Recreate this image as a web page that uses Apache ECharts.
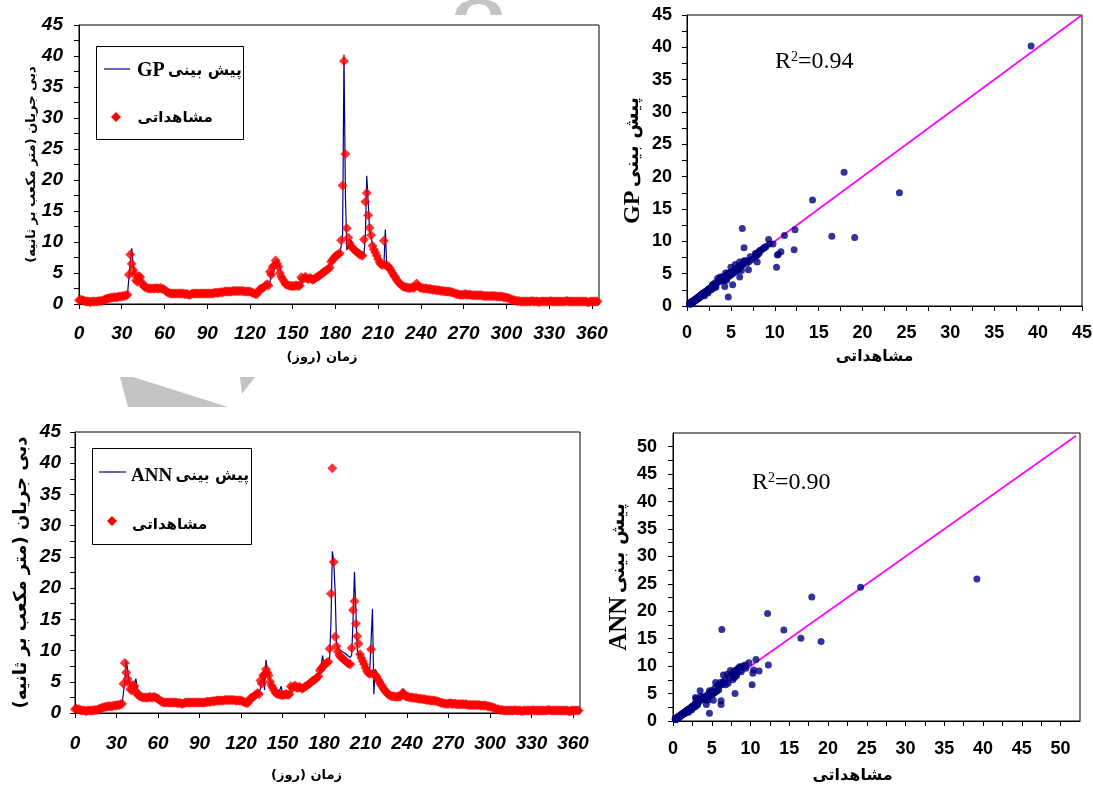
<!DOCTYPE html>
<html>
<head>
<meta charset="utf-8">
<script src="https://cdn.jsdelivr.net/npm/echarts@6/dist/echarts.min.js"></script>
<style>
html,body{margin:0;padding:0;background:#fff}
#main{width:1093px;height:789px}
</style>
</head>
<body>
<div id="main"></div>
<script>
// daily discharge, day 0..364
var observed = [
  0.6,0.7,0.6,0.6,0.5,0.4,0.4,0.4,0.3,0.4,0.4,0.4,0.4,0.4,0.5,0.5,0.5,
  0.6,0.7,0.8,0.9,0.9,1.0,1.0,1.1,1.1,1.1,1.1,1.2,1.2,1.2,1.3,1.3,1.4,1.5,
  4.7,8.0,6.5,5.5,4.8,3.8,3.6,4.5,4.3,3.5,3.0,2.8,
  2.7,2.6,2.5,2.5,2.5,2.5,2.5,2.6,2.5,2.5,2.6,2.5,2.4,2.3,
  2.1,1.9,1.8,1.7,
  1.7,1.7,1.7,1.7,1.7,1.7, 1.7,1.7,1.7,1.6,1.6,1.6, 1.5,1.5,1.6,1.7,1.7,1.7,
  1.7,1.7,1.7,1.7,1.7,1.7, 1.7,1.7,1.7,1.7,1.7,1.7, 1.8,1.8,1.8,1.8,1.9,1.9,
  1.9,2.0,2.0,2.0,2.0,2.0, 2.0,2.1,2.1,2.1,2.1,2.1, 2.1,2.1,2.1,2.0,2.0,2.0, 2.0,2.0,1.9,1.8,1.7,1.6,
  1.6,2.0,2.4,2.5,2.6,2.8,3.0,3.2,3.0,5.2,4.7, 6.0,6.2,7.0,6.5,6.0,5.0,4.4,4.0,3.6,3.2,3.1,
  3.0,3.0,2.9,2.9,2.9,3.0,3.0,2.9,3.0,
  4.3,4.0,4.2,4.4,4.1,4.0,4.2,4.1,3.9,4.0,4.2, 4.3,4.5,4.6,4.8,5.0,5.2,5.3,5.5,5.7,5.9,6.8,
  7.1,7.4,7.7,7.9,8.0,8.2,
  10.3,19.1,39.2,24.2,12.2,10.7,
  9.8,9.3,9.0,8.8,8.6,8.4,8.2,8.0,7.9,7.8,
  10.4,16.5,17.9,14.3,12.3,11.1,
  9.4,8.8,8.3,7.8,7.2,6.7,6.4,6.3,10.2,
  6.3,6.2,6.1,5.8,5.4,5.0,4.6,4.3,3.9,3.6,3.3, 3.1,2.9,2.8,2.7,2.7,2.6,2.6,2.6,2.7,2.6,2.8,
  3.3,2.9,2.7,
  2.6,2.6,2.5,2.5,2.5,2.4,2.4,2.4,2.3,2.3, 2.3,2.2,2.2,2.2,2.1,2.1,2.1,2.0,2.0,2.0,
  2.0,1.9,1.9,1.8,1.7,1.6,1.6,1.5,1.5,1.5,1.5,
  1.6,1.5,1.5,1.5,1.5,1.4,1.4,1.4,1.4,1.4, 1.4,1.4,1.4,1.3,1.3,1.3,1.3,1.3,1.3,1.3, 1.3,1.3,1.2,1.2,1.2,1.2,1.2,1.1,1.1,1.0,
  1.0,0.9,0.8,0.7,0.6,0.6,0.5,0.5,0.5,0.4,
  0.4,0.4,0.4,0.4,0.4,0.4,0.4,0.5,0.4,0.4, 0.4,0.4,0.3,0.4,0.4,0.4,0.4,0.4,0.4,0.4,
  0.5,0.4,0.4,0.4,0.4,0.4,0.4,0.4,0.4,0.4, 0.4,0.5,0.5,0.4,0.4,0.4,0.4,0.4,0.4,0.4,
  0.4,0.4,0.4,0.4,0.4,0.4,0.3,0.3,0.4,0.4, 0.4,0.4,0.4,0.4
];

var predGP = [
  0.6,0.6,0.7,0.6,0.6,0.5,0.4,0.4,0.4,0.3,0.4,0.4,0.4,0.4,0.4,0.5,0.5,
  0.5,0.6,0.7,0.8,0.9,0.9,1.0,1.0,1.1,1.1,1.1,1.1,1.2,1.2,1.2,1.3,1.3,1.4,
  1.4,6.8,9.0,6.4,5.0,4.5,3.8,4.0,4.6,4.3,3.3,2.9,
  2.8,2.7,2.6,2.5,2.5,2.5,2.5,2.5,2.6,2.5,2.5,2.6,2.5,2.4,
  2.2,2.0,1.9,1.8,
  1.7,1.7,1.7,1.7,1.7,1.7, 1.7,1.7,1.7,1.7,1.6,1.6, 1.6,1.5,1.5,1.6,1.7,1.7,
  1.7,1.7,1.7,1.7,1.7,1.7, 1.7,1.7,1.7,1.7,1.7,1.7, 1.7,1.8,1.8,1.8,1.8,1.9,
  1.9,1.9,2.0,2.0,2.0,2.0, 2.0,2.0,2.1,2.1,2.1,2.1, 2.1,2.1,2.1,2.1,2.0,2.0, 2.0,2.0,2.0,1.9,1.8,1.7,
  1.6,1.6,2.0,2.4,2.5,2.6,2.8,3.0,3.2,3.3,5.1, 4.5,5.5,5.6,7.0,6.8,6.0,5.1,4.5,4.0,3.6,3.2,
  3.1,3.0,3.0,2.9,2.9,2.9,3.0,3.0,2.9,
  3.0,4.3,4.0,4.2,4.4,4.1,4.0,4.2,4.1,3.9,4.0, 4.2,4.3,4.5,4.6,4.8,5.0,5.2,5.3,5.5,5.7,6.6,
  6.9,7.2,7.5,7.8,7.9,8.1,
  7.9,10.6,40.2,17.5,8.7,8.4,
  9.6,10.3,9.2,9.0,8.8,8.6,8.4,8.2,8.0,7.9,
  8.0,10.8,20.7,16.4,11.8,10.9,
  9.6,9.0,8.6,8.1,7.6,7.0,6.6,6.3,6.0,
  12.0,6.3,6.2,6.0,5.6,5.2,4.8,4.4,4.1,3.7,3.4, 3.2,3.0,2.8,2.8,2.7,2.7,2.6,2.6,2.6,2.7,2.6,
  2.9,3.3,2.8,
  2.7,2.6,2.6,2.5,2.5,2.5,2.4,2.4,2.4,2.3, 2.3,2.3,2.2,2.2,2.2,2.1,2.1,2.1,2.0,2.0,
  2.0,2.0,1.9,1.9,1.8,1.7,1.6,1.6,1.5,1.5,1.5,
  1.5,1.6,1.5,1.5,1.5,1.5,1.4,1.4,1.4,1.4, 1.4,1.4,1.4,1.4,1.3,1.3,1.3,1.3,1.3,1.3, 1.3,1.3,1.3,1.2,1.2,1.2,1.2,1.2,1.1,1.1,
  1.0,1.0,0.9,0.8,0.7,0.6,0.6,0.5,0.5,0.5,
  0.4,0.4,0.4,0.4,0.4,0.4,0.4,0.4,0.5,0.4, 0.4,0.4,0.4,0.3,0.4,0.4,0.4,0.4,0.4,0.4,
  0.4,0.5,0.4,0.4,0.4,0.4,0.4,0.4,0.4,0.4, 0.4,0.4,0.5,0.5,0.4,0.4,0.4,0.4,0.4,0.4,
  0.4,0.4,0.4,0.4,0.4,0.4,0.4,0.3,0.3,0.4, 0.4,0.4,0.4,0.4
];

var predANN = [
  0.7,0.6,0.7,0.6,0.6,0.5,0.4,0.4,0.4,0.4,0.4,0.4,0.4,0.4,0.4,0.5,0.5,
  0.5,0.6,0.7,0.8,0.9,1.0,1.0,1.1,1.1,1.1,1.1,1.2,1.2,1.2,1.3,1.3,1.4,1.4,
  1.4,5.0,8.4,7.0,5.0,4.2,4.5,3.8,4.0,5.5,4.0,3.0,
  2.8,2.7,2.6,2.6,2.5,2.5,2.5,2.5,2.6,2.5,2.5,2.6,2.5,2.4,
  2.2,2.0,1.9,1.8,
  1.7,1.7,1.7,1.7,1.7,1.7, 1.7,1.7,1.7,1.7,1.6,1.6, 1.6,1.5,1.5,1.6,1.7,1.7,
  1.7,1.7,1.7,1.7,1.7,1.7, 1.7,1.7,1.7,1.7,1.7,1.7, 1.7,1.8,1.8,1.8,1.8,1.9,
  1.9,1.9,2.0,2.0,2.0,2.0, 2.0,2.0,2.1,2.1,2.1,2.1, 2.1,2.1,2.1,2.1,2.0,2.0, 2.0,2.0,2.0,1.9,1.8,1.7,
  1.6,1.6,2.0,2.4,2.5,2.6,2.8,3.0,3.2,3.8,5.5, 6.5,3.7,8.5,7.0,6.5,5.2,4.6,4.0,4.0,3.4,3.2,
  3.1,3.0,4.3,3.0,2.9,2.9,3.0,3.0,2.9,
  3.0,4.3,4.0,4.2,4.4,4.1,4.0,4.2,4.1,3.9,4.0, 4.2,4.3,4.5,4.6,4.8,5.0,5.2,5.3,5.5,5.7,6.6,
  6.9,9.2,7.5,7.9,8.1,8.3,
  8.7,14.5,25.9,24.4,19.6,11.2,
  10.6,10.2,10.0,9.8,9.9,9.6,9.3,9.2,9.0,8.9,
  9.3,15.1,22.6,16.6,10.2,9.1,
  9.6,9.0,8.8,8.5,8.0,7.5,7.0,6.6,6.6,
  16.7,3.0,7.0,6.6,6.0,5.5,5.0,4.6,4.2,3.8,3.5, 3.2,3.0,2.9,2.8,2.7,2.7,2.6,2.6,2.6,2.7,2.6,
  3.8,3.3,2.8,
  2.7,2.6,2.6,2.5,2.5,2.5,2.4,2.4,2.4,2.3, 2.3,2.3,2.2,2.2,2.2,2.1,2.1,2.1,2.0,2.0,
  2.0,2.0,1.9,1.9,1.8,1.7,1.6,1.6,1.5,1.5,1.5,
  1.5,1.6,1.5,1.5,1.5,1.5,1.4,1.4,1.4,1.4, 1.4,1.4,1.4,1.4,1.3,1.3,1.3,1.3,1.3,1.3, 1.3,1.3,1.3,1.2,1.2,1.2,1.2,1.2,1.1,1.1,
  1.0,1.0,0.9,0.8,0.7,0.6,0.6,0.5,0.5,0.5,
  0.4,0.4,0.4,0.4,0.4,0.4,0.4,0.4,0.5,0.4, 0.4,0.4,0.4,0.3,0.4,0.4,0.4,0.4,0.4,0.4,
  0.4,0.5,0.4,0.4,0.4,0.4,0.4,0.4,0.4,0.4, 0.4,0.4,0.5,0.5,0.4,0.4,0.4,0.4,0.4,0.4,
  0.4,0.4,0.4,0.4,0.4,0.4,0.4,0.3,0.3,0.4, 0.4,0.4,0.4,0.4
];

// 1:1 lines of the scatter plots
var lineGP = [0, 45];
var lineANN = [0, 52];
var r2GP = '0.94';
var r2ANN = '0.90';

var faFont = "'DejaVu Sans', sans-serif";
var serif = "'Liberation Serif', 'Times New Roman', serif";
var tsLabel = {fontFamily: "'Liberation Sans Narrow','Liberation Sans',Arial", fontStyle: 'italic', fontWeight: 'bold', fontSize: 19, color: '#000'};
var scLabel = {fontFamily: "'Liberation Sans',Arial", fontWeight: 'bold', fontSize: 18, color: '#000'};

function mainAxis(grid, max, interval, label, margin, extra) {
  var a = {
    type: 'value', gridIndex: grid, min: 0, max: max, interval: interval,
    axisLine: {show: true, onZero: false, lineStyle: {color: '#000', width: 1}},
    axisTick: {show: true, length: 5, lineStyle: {color: '#000'}},
    axisLabel: Object.assign({margin: margin, showMaxLabel: (max % interval === 0)}, label),
    splitLine: {show: false}
  };
  return Object.assign(a, extra || {});
}
function minorAxis(grid, max, interval) {
  return {
    type: 'value', gridIndex: grid, min: 0, max: max, interval: interval,
    axisLine: {show: false}, axisTick: {show: false, inside: true},
    axisLabel: {show: false}, splitLine: {show: false},
    minorTick: {show: true, splitNumber: 2, length: 5, lineStyle: {color: '#000'}}
  };
}
function nameStyle(size, pad) {
  return {fontFamily: faFont, fontWeight: 'bold', fontSize: size, color: '#000', padding: pad || 0};
}
function predName(en, enSize) {
  return {
    name: '{en|' + en + '} {fa|پیش بینی}', nameLocation: 'middle',
    nameTextStyle: {rich: {
      en: {fontFamily: serif, fontWeight: 'bold', fontSize: enSize, color: '#000'},
      fa: {fontFamily: faFont, fontWeight: 'bold', fontSize: 19, color: '#000'}
    }}
  };
}

var gridBox = {show: true, borderColor: '#000', borderWidth: 1, backgroundColor: 'transparent', outerBoundsMode: 'none'};
var grey = '#c3c3c3';

var chart = echarts.init(document.getElementById('main'));
var option = {
  animation: false,
  backgroundColor: '#fff',
  grid: [
    Object.assign({left: 79, top: 25, width: 520, height: 279}, gridBox),
    Object.assign({left: 687, top: 15, width: 395, height: 291}, gridBox),
    Object.assign({left: 75, top: 432, width: 505, height: 281}, gridBox),
    Object.assign({left: 673, top: 433, width: 407, height: 288}, gridBox)
  ],
  xAxis: [
    mainAxis(0, 365, 30, tsLabel, 20, {name: 'زمان (روز)\u200F', nameLocation: 'middle', nameGap: 47, nameTextStyle: nameStyle(13, [0, 34, 0, 0])}),
    mainAxis(1, 45, 5, scLabel, 18, {name: 'مشاهداتی', nameLocation: 'middle', nameGap: 43, nameTextStyle: nameStyle(15.5, [0, 20, 0, 0])}),
    minorAxis(1, 45, 5),
    mainAxis(2, 365, 30, tsLabel, 21, {name: 'زمان (روز)\u200F', nameLocation: 'middle', nameGap: 56, nameTextStyle: nameStyle(13, [0, 42, 0, 0])}),
    mainAxis(3, 52.5, 5, scLabel, 19, {name: 'مشاهداتی', nameLocation: 'middle', nameGap: 47, nameTextStyle: nameStyle(16, [0, 48, 0, 0])}),
    minorAxis(3, 52.5, 5)
  ],
  yAxis: [
    mainAxis(0, 45, 5, tsLabel, 16, {name: 'دبی جریان (متر مکعب بر ثانیه)\u200F', nameLocation: 'middle', nameGap: 40, nameTextStyle: nameStyle(13)}),
    minorAxis(0, 45, 5),
    mainAxis(1, 45, 5, scLabel, 15, Object.assign(predName('GP', 24), {nameGap: 42})),
    minorAxis(1, 45, 5),
    mainAxis(2, 45, 5, tsLabel, 14, {name: 'دبی جریان (متر مکعب بر ثانیه)\u200F', nameLocation: 'middle', nameGap: 45, nameTextStyle: nameStyle(18)}),
    minorAxis(2, 45, 5),
    mainAxis(3, 52.5, 5, scLabel, 16, Object.assign(predName('ANN', 25), {nameGap: 41})),
    minorAxis(3, 52.5, 5)
  ],
  series: [
    {
      type: 'line', xAxisIndex: 0, yAxisIndex: 0, z: 2,
      data: predGP.map(function (v, i) { return [i, v]; }),
      showSymbol: false, lineStyle: {color: '#000080', width: 1.2}
    },
    {
      type: 'scatter', xAxisIndex: 0, yAxisIndex: 0, z: 3,
      data: observed.map(function (v, i) { return [i, v]; }),
      symbol: 'diamond', symbolSize: 10, itemStyle: {color: '#ff0000'}
    },
    {
      type: 'line', xAxisIndex: 1, yAxisIndex: 2, z: 2,
      data: [[lineGP[0], lineGP[0]], [lineGP[1], lineGP[1]]],
      showSymbol: false, lineStyle: {color: '#ff00ff', width: 1.6}
    },
    {
      type: 'scatter', xAxisIndex: 1, yAxisIndex: 2, z: 3,
      data: observed.map(function (v, i) { return [v, predGP[i]]; }),
      symbolSize: 7, itemStyle: {color: '#000080'}
    },
    {
      type: 'line', xAxisIndex: 3, yAxisIndex: 4, z: 2,
      data: predANN.map(function (v, i) { return [i, v]; }),
      showSymbol: false, lineStyle: {color: '#000080', width: 1.2}
    },
    {
      type: 'scatter', xAxisIndex: 3, yAxisIndex: 4, z: 3,
      data: observed.map(function (v, i) { return [i, v]; }),
      symbol: 'diamond', symbolSize: 10, itemStyle: {color: '#ff0000'}
    },
    {
      type: 'line', xAxisIndex: 4, yAxisIndex: 6, z: 2,
      data: [[lineANN[0], lineANN[0]], [lineANN[1], lineANN[1]]],
      showSymbol: false, lineStyle: {color: '#ff00ff', width: 1.6}
    },
    {
      type: 'scatter', xAxisIndex: 4, yAxisIndex: 6, z: 3,
      data: observed.map(function (v, i) { return [v, predANN[i]]; }),
      symbolSize: 7, itemStyle: {color: '#000080'}
    }
  ],
  graphic: [
    // faint watermark pieces behind the page
    {type: 'polygon', z: -1, shape: {points: [[455, 15], [457, 8], [462, 3], [470, 0], [488, 0], [496, 3], [500, 8], [502, 15], [491, 15], [489, 9], [485, 5], [479, 4], [472, 5], [468, 9], [466, 15]]}, style: {fill: grey}},
    {type: 'polygon', z: -1, shape: {points: [[120, 377], [133, 377], [228, 407], [128, 407]]}, style: {fill: grey}},
    {type: 'polygon', z: -1, shape: {points: [[240, 377], [255, 377], [242, 394]]}, style: {fill: grey}},
    // legend, top chart
    {type: 'rect', z: 10, shape: {x: 96.5, y: 46.5, width: 147, height: 93}, style: {fill: '#fff', stroke: '#000', lineWidth: 1}},
    {type: 'line', z: 11, shape: {x1: 104, y1: 69, x2: 130, y2: 69}, style: {stroke: '#000080', lineWidth: 1.2}},
    {type: 'text', z: 11, x: 137, y: 71, style: {
      text: '{en|GP} {fa|پیش بینی}', verticalAlign: 'middle',
      rich: {en: {fontFamily: serif, fontWeight: 'bold', fontSize: 20, fill: '#000'},
             fa: {fontFamily: faFont, fontWeight: 'bold', fontSize: 15.5, fill: '#000'}}
    }},
    {type: 'polygon', z: 11, shape: {points: [[116, 112], [121, 117], [116, 122], [111, 117]]}, style: {fill: '#ff0000'}},
    {type: 'text', z: 11, x: 137.5, y: 118, style: {text: 'مشاهداتی', fontFamily: faFont, fontWeight: 'bold', fontSize: 15, fill: '#000', verticalAlign: 'middle'}},
    // legend, bottom chart
    {type: 'rect', z: 10, shape: {x: 92.5, y: 448.5, width: 159, height: 96}, style: {fill: '#fff', stroke: '#000', lineWidth: 1}},
    {type: 'line', z: 11, shape: {x1: 99, y1: 472, x2: 126, y2: 472}, style: {stroke: '#000080', lineWidth: 1.2}},
    {type: 'text', z: 11, x: 131, y: 476, style: {
      text: '{en|ANN} {fa|پیش بینی}', verticalAlign: 'middle',
      rich: {en: {fontFamily: serif, fontWeight: 'bold', fontSize: 19, fill: '#000'},
             fa: {fontFamily: faFont, fontWeight: 'bold', fontSize: 15.5, fill: '#000'}}
    }},
    {type: 'polygon', z: 11, shape: {points: [[112, 516], [117, 521], [112, 526], [107, 521]]}, style: {fill: '#ff0000'}},
    {type: 'text', z: 11, x: 132, y: 525, style: {text: 'مشاهداتی', fontFamily: faFont, fontWeight: 'bold', fontSize: 15, fill: '#000', verticalAlign: 'middle'}},
    // R2 labels
    {type: 'text', z: 11, x: 775, y: 62, style: {
      text: 'R{s|2}=' + r2GP, fontFamily: serif, fontSize: 24, fill: '#000', verticalAlign: 'middle',
      rich: {s: {fontFamily: serif, fontSize: 14, fill: '#000', verticalAlign: 'top'}}
    }},
    {type: 'text', z: 11, x: 752, y: 483, style: {
      text: 'R{s|2}=' + r2ANN, fontFamily: serif, fontSize: 24, fill: '#000', verticalAlign: 'middle',
      rich: {s: {fontFamily: serif, fontSize: 14, fill: '#000', verticalAlign: 'top'}}
    }}
  ]
};
chart.setOption(option);
</script>
</body>
</html>
